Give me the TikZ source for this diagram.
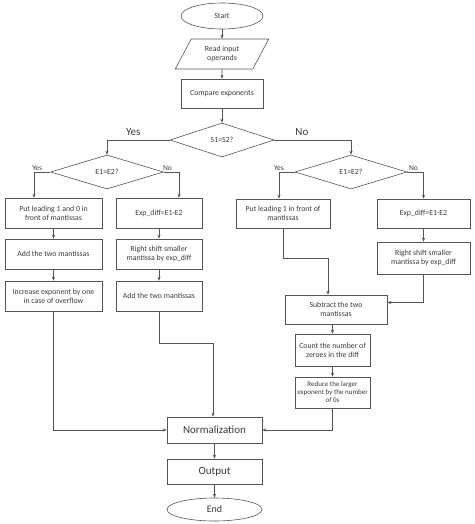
\documentclass[tikz,border=0pt]{standalone}
\usepackage{fontspec}
\setmainfont{Carlito}
\usetikzlibrary{arrows.meta,positioning,shapes.geometric}
\definecolor{linegray}{HTML}{555555}
\definecolor{textgray}{HTML}{3A3A3A}

\begin{document}
\begin{tikzpicture}[x=1pt, y=-1pt, font=\fontsize{7.8}{9}\selectfont, >={Stealth[length=4pt,width=3.2pt]}, text=textgray]
  \tikzstyle{box}=[draw=linegray, line width=0.6pt, align=center, inner sep=1pt, minimum height=30pt]
  \tikzstyle{term}=[draw=linegray, line width=0.6pt, ellipse, inner sep=1pt]
  \tikzstyle{decide}=[draw=linegray, line width=0.6pt, diamond, inner sep=0pt, minimum height=34pt]
  \tikzstyle{flow}=[->, draw=linegray, line width=0.6pt]
  \tikzstyle{branch}=[font=\fontsize{7.5}{8}\selectfont, inner sep=1.5pt]
  \tikzstyle{bigtext}=[font=\fontsize{11}{13}\selectfont]
  \useasboundingbox (0,0) rectangle (474,524);

  % top part
  \node[term, minimum width=82pt, minimum height=26pt] (start) at (222,16) {Start};
  \node[draw=linegray, line width=0.6pt, trapezium, trapezium left angle=62, trapezium right angle=118, minimum width=94pt, minimum height=28pt, inner sep=1pt, align=center] (read) at (222,54) {Read input\\operands};
  \node[box, minimum width=82pt, minimum height=29pt] (cmp) at (222,93.5) {Compare exponents};
  \node[decide, minimum width=104pt] (s12) at (222,140) {S1=S2?};

  % left side
  \node[decide, minimum width=113pt] (e1l) at (107,172) {E1=E2?};
  \node[box, minimum width=97pt] (lput) at (53.5,213) {Put leading 1 and 0 in\\front of mantissas};
  \node[box, minimum width=97pt] (ladd) at (53.5,254) {Add the two mantissas};
  \node[box, minimum width=97pt] (linc) at (53.5,296) {Increase exponent by one\\in case of overflow};
  \node[box, minimum width=86pt] (ldiff) at (159,213) {Exp\_diff=E1-E2};
  \node[box, minimum width=86pt] (lshift) at (159,254) {Right shift smaller\\mantissa by exp\_diff};
  \node[box, minimum width=86pt] (ladd2) at (159,296) {Add the two mantissas};

  % right side
  \node[decide, minimum width=112pt] (e2r) at (351,172) {E1=E2?};
  \node[box, minimum width=94pt, minimum height=29pt] (rput) at (283,213.5) {Put leading 1 in front of\\mantissas};
  \node[box, minimum width=93pt, minimum height=29pt] (rdiff) at (423.5,213.5) {Exp\_diff=E1-E2};
  \node[box, minimum width=93pt, minimum height=32pt] (rshift) at (423.5,258) {Right shift smaller\\mantissa by exp\_diff};
  \node[box, minimum width=102pt, minimum height=29pt] (sub) at (336,309.5) {Subtract the two\\mantissas};
  \node[box, minimum width=75pt, minimum height=32pt] (count) at (332.5,350) {Count the number of\\zeroes in the diff};
  \node[box, minimum width=75pt, minimum height=31pt, inner sep=0pt, font=\fontsize{7}{8}\selectfont] (reduce) at (332.5,392.5) {Reduce the larger\\exponent by the number\\of 0s};

  % bottom part
  \node[box, bigtext, minimum width=95pt, minimum height=26pt] (norm) at (214.5,430) {Normalization};
  \node[box, bigtext, minimum width=95pt, minimum height=25pt] (out) at (214.5,471.5) {Output};
  \node[term, minimum width=95pt, minimum height=23pt, font=\fontsize{10}{12}\selectfont] (end) at (214.5,509.5) {End};

  \draw[flow] (start) -- (read);
  \draw[flow] (read) -- (cmp);
  \draw[flow] (cmp) -- (s12);
  \draw[flow] (s12.west) -| node[bigtext, pos=0.29, above=1pt]{Yes} (e1l.north);
  \draw[flow] (s12.east) -| node[bigtext, pos=0.18, above=1pt]{No} (e2r.north);

  \draw[flow] (e1l.west) -| node[branch, pos=0.4, above]{Yes} ([xshift=-19.5pt]lput.north);
  \draw[flow] (e1l.east) -| node[branch, pos=0.12, above]{No} ([xshift=20pt]ldiff.north);
  \draw[flow] (lput) -- (ladd);
  \draw[flow] (ladd) -- (linc);
  \draw[flow] (ldiff) -- (lshift);
  \draw[flow] (lshift) -- (ladd2);

  \draw[flow] (e2r.west) -| node[branch, pos=0.5, above]{Yes} ([xshift=-4pt]rput.north);
  \draw[flow] (e2r.east) -| node[branch, pos=0.19, above]{No} (rdiff.north);
  \draw[flow] (rdiff) -- (rshift);
  \draw[flow] (rput.south) -- ++(0,30) -| ([xshift=-8pt]sub.north);
  \draw[flow] (rshift.south) |- ([yshift=7pt]sub.east);
  \draw[flow] ([xshift=-3.5pt]sub.south) -- (count);
  \draw[flow] (count) -- (reduce);

  \draw[flow] (linc.south) |- (norm.west);
  \draw[flow] (ladd2.south) -- ++(0,31.5) -| ([xshift=-1.5pt]norm.north);
  \draw[flow] (reduce.south) |- (norm.east);
  \draw[flow] (norm) -- (out);
  \draw[flow] (out) -- (end);
\end{tikzpicture}
\end{document}
